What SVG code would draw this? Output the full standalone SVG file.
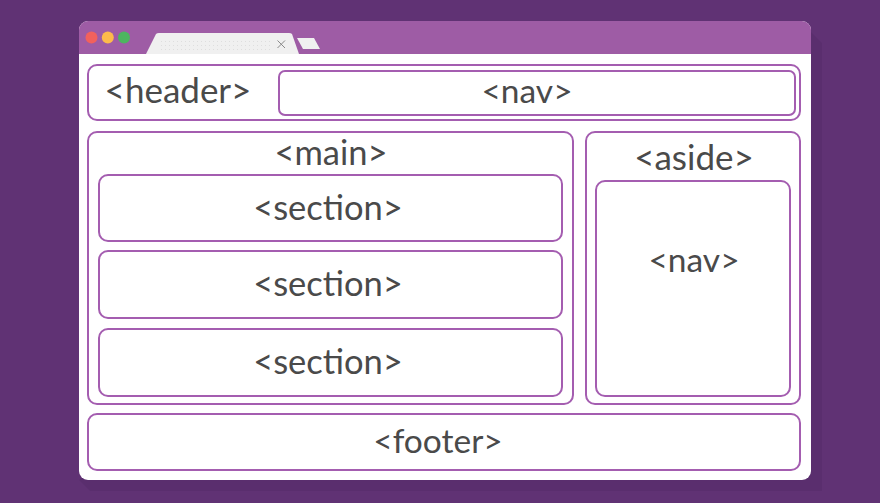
<svg xmlns="http://www.w3.org/2000/svg" width="880" height="503" viewBox="0 0 880 503">
<defs>
<pattern id="dots" width="4" height="4" patternUnits="userSpaceOnUse"><rect x="1" y="1" width="1" height="1" fill="#dedede"/></pattern>
</defs>
<style>
.box{fill:#fff;stroke:#a45db0;stroke-width:2}
.t{font-family:"Lato","Noto Sans",sans-serif;font-size:34.500px;fill:#4a4a4a;text-anchor:middle;font-weight:400}
.s{font-size:33.500px}
.l{font-size:35px}
</style>
<rect width="880" height="503" fill="#603274"/>
<g id="window">
<polygon points="800,21 822,43 822,491 90,491 79,480" fill="#5a2e6e"/>
<rect x="79" y="21" width="732" height="459" rx="9" fill="#fff"/>
<path d="M79 54V30a9 9 0 0 1 9-9H802a9 9 0 0 1 9 9V54Z" fill="#9e5ca5"/>
<circle cx="91.500" cy="37.500" r="6" fill="#f2615c"/>
<circle cx="107.800" cy="37.500" r="6" fill="#fdba4b"/>
<circle cx="124" cy="37.500" r="6" fill="#4db560"/>
<path d="M146 54L156 34Q157 33 159 33H289Q291 33 292 34L299 54Z" fill="#f0f0f0"/>
<rect x="160" y="38" width="112" height="15" fill="url(#dots)"/>
<path d="M277.500 40.500L285 48M285 40.500L277.500 48" stroke="#8a8a8a" stroke-width="1" fill="none"/>
<path d="M297 38H314L320 49H303Z" fill="#f0f0f0"/>
</g>
<g id="header"><rect class="box" x="88" y="65" width="712" height="55" rx="9"/><text class="t l" x="178" y="103">&lt;header&gt;</text></g>
<g id="nav-top"><rect class="box" x="279" y="71" width="516" height="44" rx="6"/><text class="t s" x="527" y="103">&lt;nav&gt;</text></g>
<g id="main"><rect class="box" x="88" y="132" width="485" height="272" rx="9"/><text class="t" x="331" y="165">&lt;main&gt;</text></g>
<g id="section-1"><rect class="box" x="99" y="175" width="463" height="66" rx="9"/><text class="t" x="328" y="220">&lt;section&gt;</text></g>
<g id="section-2"><rect class="box" x="99" y="251" width="463" height="67" rx="9"/><text class="t" x="328" y="296">&lt;section&gt;</text></g>
<g id="section-3"><rect class="box" x="99" y="329" width="463" height="67" rx="9"/><text class="t" x="328" y="374">&lt;section&gt;</text></g>
<g id="aside"><rect class="box" x="586" y="132" width="214" height="272" rx="9"/><text class="t l" x="694" y="170">&lt;aside&gt;</text></g>
<g id="nav-aside"><rect class="box" x="596" y="181" width="194" height="215" rx="9"/><text class="t s" x="694" y="272">&lt;nav&gt;</text></g>
<g id="footer"><rect class="box" x="88" y="414" width="712" height="56" rx="9"/><text class="t s" x="438" y="453">&lt;footer&gt;</text></g>
<g id="connectors"/>
</svg>
